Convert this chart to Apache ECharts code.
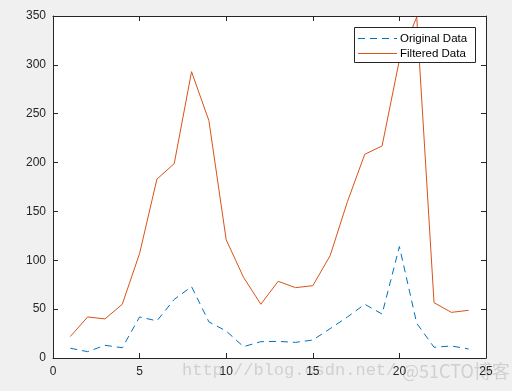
<!DOCTYPE html>
<html>
<head>
<meta charset="utf-8">
<script src="https://cdn.jsdelivr.net/npm/echarts@6/dist/echarts.min.js"></script>
<style>html,body{margin:0;padding:0;background:#f0f0f0;}#c{width:512px;height:391px;}</style>
</head>
<body>
<div id="c"></div>
<script>
const xValues = [1,2,3,4,5,6,7,8,9,10,11,12,13,14,15,16,17,18,19,20,21,22,23,24];
const originalData = [10,6.5,13,10.5,42,38,60,73,37,27.6,11.6,16.7,17,16,18.4,30,42,55,45,114,35.5,11,12.3,9.2];
const filteredData = [22,42,40,55,107,183,199,293,243,121,82.6,55,78.5,72,74,104.7,160,208.5,217,305,349,56.6,46.7,48.8];
const xTicks = [0,5,10,15,20,25];
const yTicks = [0,50,100,150,200,250,300,350];
const seriesNames = ['Original Data','Filtered Data'];
const seriesColors = ['#0072BD','#D95319'];

const chart = echarts.init(document.getElementById('c'), null, {renderer:'canvas'});
const font = 'Liberation Sans, Arial, Helvetica, sans-serif';
function axisCommon(){
  return {
    axisLine:{show:true, onZero:false, lineStyle:{color:'#262626', width:1}},
    axisTick:{show:true, inside:true, length:5, lineStyle:{color:'#262626'}},
    splitLine:{show:false}
  };
}
const lf = '11.5px "Liberation Sans", Arial, sans-serif';
chart.setOption({
  backgroundColor:'#f0f0f0',
  animation:false,
  grid:{left:53, right:26, top:16, bottom:33, show:true, backgroundColor:'#ffffff', borderWidth:0},
  xAxis:[
    Object.assign({type:'value', position:'bottom', min:xTicks[0], max:xTicks[xTicks.length-1], interval:5,
      axisLabel:{color:'#262626', fontSize:12, fontFamily:font, margin:8}}, axisCommon()),
    Object.assign({type:'value', position:'top', min:xTicks[0], max:xTicks[xTicks.length-1], interval:5,
      axisLabel:{show:false}}, axisCommon())
  ],
  yAxis:[
    Object.assign({type:'value', position:'left', min:yTicks[0], max:yTicks[yTicks.length-1], interval:50,
      axisLabel:{color:'#262626', fontSize:12, fontFamily:font, margin:7}}, axisCommon()),
    Object.assign({type:'value', position:'right', min:yTicks[0], max:yTicks[yTicks.length-1], interval:50,
      axisLabel:{show:false}}, axisCommon())
  ],
  series:[
    {name:seriesNames[0], type:'line', showSymbol:false, symbol:'none', data:xValues.map((x,i)=>[x,originalData[i]]),
      lineStyle:{color:seriesColors[0], width:1, type:[7,5]}, itemStyle:{color:seriesColors[0]}, z:3},
    {name:seriesNames[1], type:'line', showSymbol:false, symbol:'none', data:xValues.map((x,i)=>[x,filteredData[i]]),
      lineStyle:{color:seriesColors[1], width:1}, itemStyle:{color:seriesColors[1]}, z:2}
  ],
  graphic:{
    zlevel:1,
    elements:[
      {type:'text', left:182, top:362, z:0, style:{text:'http://blog.csdn.net/', fill:'rgba(160,160,160,0.4)', font:'17px "Liberation Mono", monospace'}},
      {type:'text', left:402, top:362, z:0, style:{text:'@51CTO博客', fill:'rgba(160,160,160,0.4)', font:'18px "Noto Sans CJK SC", sans-serif'}},
      {type:'rect', z:100, shape:{x:354.5, y:27.5, width:121, height:35}, style:{fill:'#ffffff', stroke:'#262626', lineWidth:1}},
      {type:'line', z:101, shape:{x1:358, y1:38.5, x2:397, y2:38.5}, style:{stroke:seriesColors[0], lineWidth:1, lineDash:[7,5]}},
      {type:'line', z:101, shape:{x1:358, y1:53.5, x2:397, y2:53.5}, style:{stroke:seriesColors[1], lineWidth:1}},
      {type:'text', z:101, x:400, y:38.5, style:{text:seriesNames[0], fill:'#000', font:lf, verticalAlign:'middle'}},
      {type:'text', z:101, x:400, y:53.5, style:{text:seriesNames[1], fill:'#000', font:lf, verticalAlign:'middle'}}
    ]
  }
});
</script>
</body>
</html>
